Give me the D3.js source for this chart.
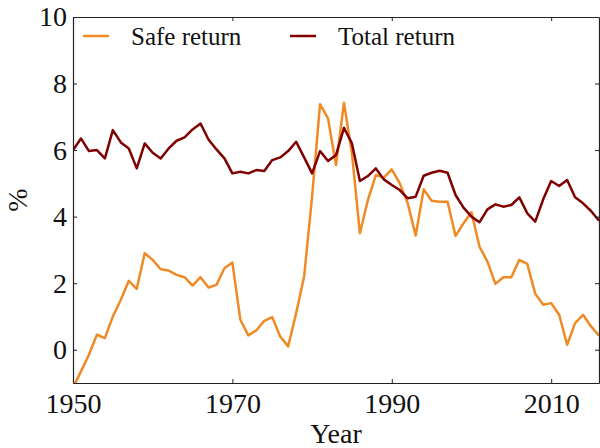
<!DOCTYPE html>
<html>
<head>
<meta charset="utf-8">
<script src="https://cdn.jsdelivr.net/npm/d3@7"></script>
<style>
  body { margin: 0; background: #fff; }
  svg { display: block; font-family: "Liberation Serif", "DejaVu Serif", serif; }
  .axis path, .axis line { stroke: #222; }
  .axis text { font-size: 28px; fill: #111; font-family: "Liberation Serif", serif; }
</style>
</head>
<body>
<svg id="chart" width="600" height="448"></svg>
<script>
const svg = d3.select("#chart");
const width = +svg.attr("width");
const height = +svg.attr("height");
const margin = { top: 17, right: 1, bottom: 65, left: 73 };
const iw = width - margin.left - margin.right;
const ih = height - margin.top - margin.bottom;

const g = svg.append("g").attr("transform", `translate(${margin.left},${margin.top})`);

// data, 1950..2016
const years = d3.range(1950, 2017);
const safeReturn = [
  -1.15, -0.65, -0.15, 0.45, 0.35, 1.0, 1.5, 2.07, 1.83, 2.9,
  2.7, 2.42, 2.38, 2.25, 2.18, 1.93, 2.18, 1.87, 1.95, 2.45,
  2.62, 0.9, 0.43, 0.58, 0.87, 0.98, 0.4, 0.1, 1.1, 2.2,
  4.6, 7.38, 6.95, 5.55, 7.42, 5.9, 3.5, 4.5, 5.25, 5.17,
  5.42, 5.0, 4.4, 3.43, 4.82, 4.48, 4.45, 4.45, 3.42, 3.8,
  4.13, 3.1, 2.65, 1.98, 2.18, 2.18, 2.7, 2.58, 1.68, 1.35,
  1.4, 1.05, 0.15, 0.8, 1.05, 0.7, 0.42
];
const totalReturn = [
  6.0, 6.35, 5.97, 6.0, 5.75, 6.6, 6.23, 6.05, 5.45, 6.2,
  5.92, 5.75, 6.05, 6.28, 6.38, 6.62, 6.8, 6.32, 6.02, 5.75,
  5.3, 5.35, 5.3, 5.4, 5.37, 5.7, 5.78, 5.97, 6.25, 5.78,
  5.3, 5.97, 5.67, 5.85, 6.67, 6.2, 5.07, 5.22, 5.45, 5.12,
  4.95, 4.8, 4.55, 4.6, 5.23, 5.32, 5.38, 5.32, 4.65, 4.27,
  4.0, 3.83, 4.22, 4.37, 4.3, 4.35, 4.58, 4.1, 3.85, 4.52,
  5.07, 4.92, 5.1, 4.58, 4.4, 4.17, 3.88
];
const xTicks = [1950, 1970, 1990, 2010];
const yTicks = [0, 2, 4, 6, 8, 10];

const series = [
  { name: "Safe return", values: safeReturn, color: "#ef8a24" },
  { name: "Total return", values: totalReturn, color: "#800000" }
];

const x = d3.scaleLinear().domain([1950, 2016]).range([0, iw]);
const y = d3.scaleLinear().domain([-1, 10]).range([ih, 0]);

svg.append("defs").append("clipPath").attr("id", "clip")
  .append("rect").attr("width", iw).attr("height", ih);

// lines
const line = d3.line()
  .x((d, i) => x(years[i]))
  .y(d => y(d));

g.append("g").attr("clip-path", "url(#clip)")
  .selectAll("path")
  .data(series)
  .join("path")
    .attr("fill", "none")
    .attr("stroke", d => d.color)
    .attr("stroke-width", 2.5)
    .attr("stroke-linejoin", "round")
    .attr("d", d => line(d.values));

// axes, ticks pointing inward on all sides
g.append("g")
  .attr("class", "axis")
  .attr("transform", `translate(0,${ih})`)
  .call(d3.axisBottom(x).tickValues(xTicks).tickFormat(d3.format("d")).tickSizeInner(-4).tickSizeOuter(0).tickPadding(10));

g.append("g")
  .attr("class", "axis")
  .call(d3.axisTop(x).tickValues(xTicks).tickFormat("").tickSizeInner(-4).tickSizeOuter(0));

g.append("g")
  .attr("class", "axis")
  .call(d3.axisLeft(y).tickValues(yTicks).tickSizeInner(-4).tickSizeOuter(0).tickPadding(6));

g.append("g")
  .attr("class", "axis")
  .attr("transform", `translate(${iw},0)`)
  .call(d3.axisRight(y).tickValues(yTicks).tickFormat("").tickSizeInner(-4).tickSizeOuter(0));

g.selectAll(".axis .domain").attr("stroke-width", 1.2);

// axis labels
g.append("text")
  .attr("x", iw / 2)
  .attr("y", ih + 60)
  .attr("text-anchor", "middle")
  .attr("font-size", 28)
  .attr("fill", "#111")
  .text("Year");

g.append("text")
  .attr("transform", "rotate(-90)")
  .attr("x", -ih / 2)
  .attr("y", -46)
  .attr("text-anchor", "middle")
  .attr("font-size", 28)
  .attr("fill", "#111")
  .text("%");

// legend
const legend = g.append("g").attr("transform", "translate(10,19)");
const items = legend.selectAll("g")
  .data(series)
  .join("g")
    .attr("transform", (d, i) => `translate(${i * 207},0)`);
items.append("line")
  .attr("x1", 0).attr("x2", 26)
  .attr("stroke", d => d.color)
  .attr("stroke-width", 2.5);
items.append("text")
  .attr("x", 48)
  .attr("y", 9)
  .attr("font-size", 25)
  .attr("fill", "#111")
  .text(d => d.name);
</script>
</body>
</html>
